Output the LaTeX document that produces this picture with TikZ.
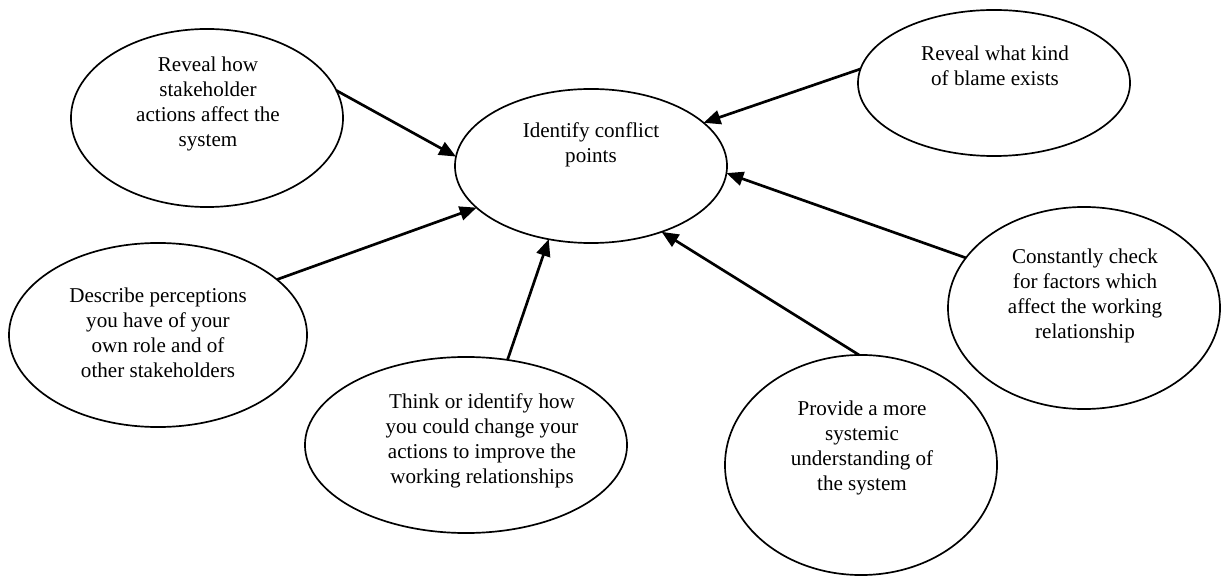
\documentclass[tikz,border=0pt]{standalone}
\usepackage{fontspec}
\setmainfont{Liberation Serif}
\usetikzlibrary{shapes.geometric,arrows.meta}
\begin{document}
\begin{tikzpicture}[x=0.025cm,y=-0.025cm,
  bubble/.style={draw=black,line width=1.2pt,ellipse,inner sep=0pt,outer sep=0pt},
  caption/.style={align=center,inner sep=0pt,font=\fontsize{15}{17.8}\selectfont},
  link/.style={line width=1.9pt,-{Triangle[length=12pt,width=10pt]}}]
\useasboundingbox (0,0) rectangle (1221,576);
% outer ellipses and the central one
\node[bubble,minimum width=6.8cm,minimum height=3.85cm] (ctr) at (591,166) {};
\node[bubble,minimum width=6.8cm,minimum height=4.45cm] (reveal) at (207,118) {};
\node[bubble,minimum width=6.8cm,minimum height=3.65cm] (blame) at (994,83) {};
\node[bubble,minimum width=7.45cm,minimum height=4.6cm] (describe) at (158,335) {};
\node[bubble,minimum width=8.05cm,minimum height=4.4cm] (think) at (466,445) {};
\node[bubble,minimum width=6.8cm,minimum height=5.5cm] (provide) at (861,465) {};
\node[bubble,minimum width=6.8cm,minimum height=5.05cm] (check) at (1084,308) {};
% texts
\node[caption] (ctrtext) at (591,145) {Identify conflict\\points};
\node[caption] (revealtext) at (208,104) {Reveal how\\stakeholder\\actions affect the\\system};
\node[caption] (blametext) at (995,66) {Reveal what kind\\of blame exists};
\node[caption] (describetext) at (158,333) {Describe perceptions\\you have of your\\own role and of\\other stakeholders};
\node[caption] (thinktext) at (482,441) {Think or identify how\\you could change your\\actions to improve the\\working relationships};
\node[caption] (providetext) at (862,448) {Provide a more\\systemic\\understanding of\\the system};
\node[caption] (checktext) at (1085,296) {Constantly check\\for factors which\\affect the working\\relationship};
% connectors into the central ellipse
\draw[link] (reveal.12) -- (ctr.176);
\draw[link] (blame.174.5) -- (ctr.21);
\draw[link] (check.157) -- (ctr.-3.4);
\draw[link] (provide.91.5) -- (ctr.-43.7);
\draw[link] (think.64.5) -- (ctr.-120);
\draw[link] (describe.25.3) -- (ctr.200);
\end{tikzpicture}
\end{document}
